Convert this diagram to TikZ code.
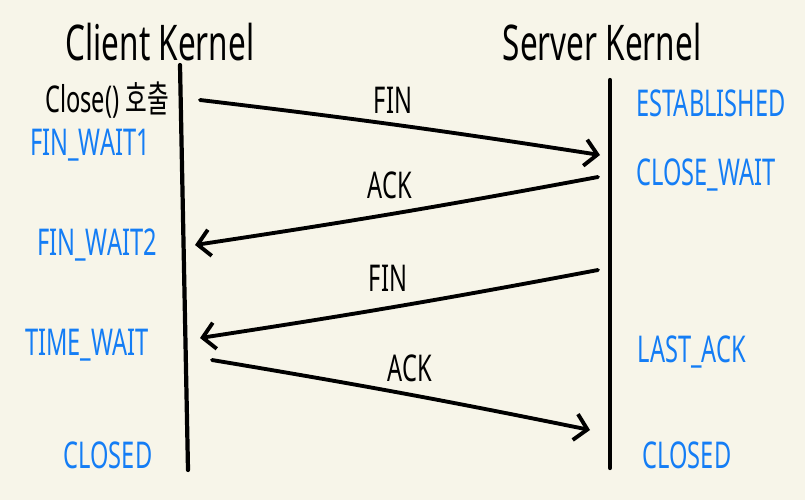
\documentclass[tikz,border=0pt]{standalone}
\usepackage{fontspec}
\setmainfont{Noto Sans}
\newfontfamily\kofont{Noto Sans CJK KR}
\usepackage{graphicx}
\usepackage{tikz}
\usetikzlibrary{arrows.meta, positioning}
\definecolor{PaperCream}{RGB}{247,245,233}
\definecolor{StateBlue}{RGB}{20,125,245}
\newcommand{\narrow}[1]{\scalebox{0.64}[1]{#1}}
\tikzset{
  title/.style={font=\fontsize{28}{30}\selectfont, inner sep=0pt},
  state/.style={text=StateBlue, font=\fontsize{21}{23}\selectfont, inner sep=0pt},
  msg/.style={font=\fontsize{21}{23}\selectfont, inner sep=0pt},
  lifeline/.style={line width=2.4pt, line cap=round},
  segment/.style={line width=2.2pt, line cap=round,
                  -{Straight Barb[length=7pt, width=15pt, line width=2.2pt]}}
}

\begin{document}
\begin{tikzpicture}[x=0.02cm, y=-0.02cm]
  \fill[PaperCream] (0,0) rectangle (805,500);
  \useasboundingbox (0,0) rectangle (805,500);

  % headers
  \node[title] (client) at (160,42) {\narrow{Client Kernel}};
  \node[title] (server) at (602,42) {\narrow{Server Kernel}};

  % lifelines
  \coordinate (ctop) at (180,65);
  \coordinate (cbot) at (188,470);
  \coordinate (stop) at (610,80);
  \coordinate (sbot) at (610,468);
  \draw[lifeline] (ctop) -- (cbot);
  \draw[lifeline] (stop) -- (sbot);

  % client side
  \node[msg] (call) at (107,100) {\narrow{Close() {\kofont 호출}}};
  \node[state] (finwait1) at (90,145) {\narrow{FIN\_WAIT1}};
  \node[state] (finwait2) at (97,245) {\narrow{FIN\_WAIT2}};
  \node[state] (timewait) at (87,345) {\narrow{TIME\_WAIT}};
  \node[state] (cclosed) at (108,455) {\narrow{CLOSED}};

  % server side
  \node[state] (estab) at (711,103) {\narrow{ESTABLISHED}};
  \node[state] (closewait) at (706,175) {\narrow{CLOSE\_WAIT}};
  \node[state] (lastack) at (692,352) {\narrow{LAST\_ACK}};
  \node[state] (sclosed) at (687,455) {\narrow{CLOSED}};

  % segment end points
  \coordinate (a1) at (200,100);
  \coordinate (b1) at (600,155);
  \coordinate (a2) at (598,177);
  \coordinate (b2) at (195,245);
  \coordinate (a3) at (598,270);
  \coordinate (b3) at (200,338);
  \coordinate (a4) at (212,360);
  \coordinate (b4) at (590,430);

  % segments
  \draw[segment] (a1) to[bend left=1] (b1);
  \draw[segment] (a2) to[bend left=1] (b2);
  \draw[segment] (a3) to[bend left=1] (b3);
  \draw[segment] (a4) to[bend left=1] (b4);

  \node[msg] (fin1) at (393,100) {\narrow{FIN}};
  \node[msg] (ack1) at (390,185) {\narrow{ACK}};
  \node[msg] (fin2) at (388,278) {\narrow{FIN}};
  \node[msg] (ack2) at (410,368) {\narrow{ACK}};
\end{tikzpicture}
\end{document}
